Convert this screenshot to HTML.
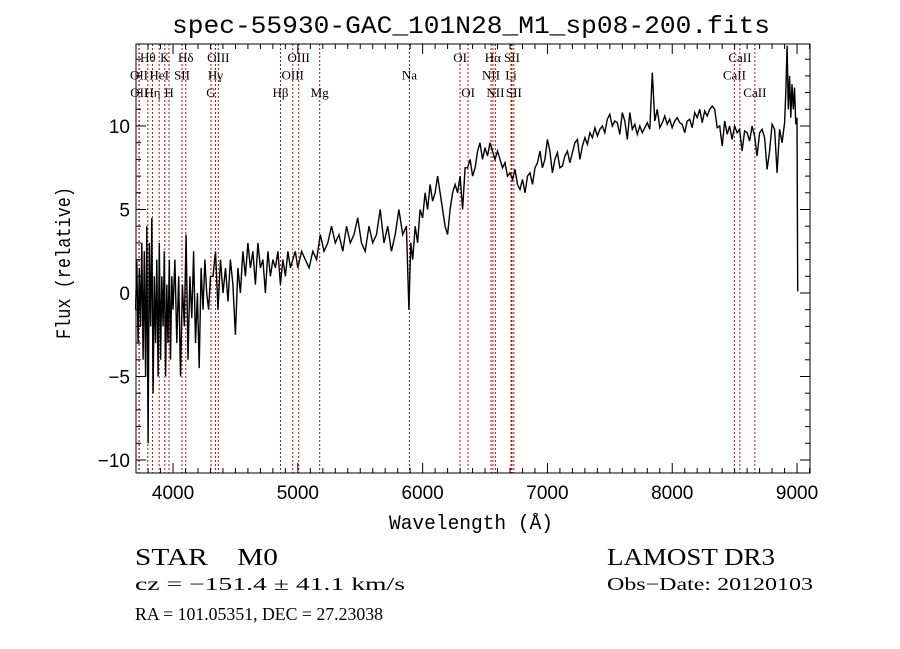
<!DOCTYPE html>
<html><head><meta charset="utf-8"><style>
html,body{margin:0;padding:0;background:#fff;}
svg{display:block;}
</style></head><body>
<svg id="chart" width="900" height="649" viewBox="0 0 900 649" xmlns="http://www.w3.org/2000/svg">
<rect x="0" y="0" width="900" height="649" fill="#fff"/>
<text x="471" y="33" text-anchor="middle" font-family="Liberation Mono, monospace" font-size="25" textLength="598" lengthAdjust="spacingAndGlyphs">spec-55930-GAC_101N28_M1_sp08-200.fits</text>
<g id="lines"></g>
<g id="spec"></g>
<g id="axes"></g>
<text x="471" y="529" text-anchor="middle" font-family="Liberation Mono, monospace" font-size="20" textLength="164" lengthAdjust="spacingAndGlyphs">Wavelength (Å)</text>
<text transform="translate(70,263) rotate(-90)" text-anchor="middle" font-family="Liberation Mono, monospace" font-size="20" textLength="152" lengthAdjust="spacingAndGlyphs">Flux (relative)</text>
<g font-family="Liberation Serif, serif">
<text x="135" y="565" font-size="24" textLength="143" lengthAdjust="spacingAndGlyphs">STAR&#160;&#160;&#160;&#160;M0</text>
<text x="607" y="565" font-size="24" textLength="168" lengthAdjust="spacingAndGlyphs">LAMOST DR3</text>
<text x="135" y="590" font-size="18" textLength="270" lengthAdjust="spacingAndGlyphs">cz = −151.4 ± 41.1 km/s</text>
<text x="607" y="590" font-size="18" textLength="206" lengthAdjust="spacingAndGlyphs">Obs−Date: 20120103</text>
<text x="135" y="620" font-size="18" textLength="248" lengthAdjust="spacingAndGlyphs">RA = 101.05351, DEC =  27.23038</text>
</g>
</svg>
<script>
const wl = [3700,3710,3720,3730,3740,3750,3760,3770,3780,3790,3800,3810,3820,3830,3840,3850,3860,3870,3880,3890,3900,3910,3920,3930,3940,3950,3960,3970,3980,3990,
4000,4015,4030,4045,4060,4075,4090,4105,4120,4135,4150,4165,4180,4195,4210,4225,4240,4255,4270,4285,4300,
4320,4340,4360,4380,4400,4420,4440,4460,4480,4500,4520,4540,4560,4580,4600,4620,4640,4660,4680,4700,4720,4740,4760,4780,4800,4820,4840,4860,4880,4900,4920,4940,4960,4980,5000,
5030,5060,5090,5120,5150,5180,5210,5240,5270,5300,5330,5360,5390,5420,5450,5480,5510,5540,5570,5600,5630,5660,5690,5720,5750,5780,5810,5840,5870,
5890,5905,5920,
5940,5960,5980,6000,6020,6040,6060,6080,6100,6120,6140,6160,6180,6200,6220,6240,6260,6280,6300,6320,6340,6360,6380,6400,6420,6440,6460,6480,6500,
6520,6540,6560,6580,6600,6620,6640,6660,6680,6700,6720,6740,6760,6780,6800,6820,6840,6860,6880,6900,6920,6940,6960,6980,7000,
7020,7040,7060,7080,7100,7120,7140,7160,7180,7200,7220,7240,7260,7280,7300,7320,7340,7360,7380,7400,7420,7440,7460,7480,7500,7520,7540,7560,7580,7600,
7620,7640,7660,7680,7700,7720,7740,7760,7780,7800,7820,7840,7860,7880,7900,7920,7940,7960,7980,8000,8020,8040,8060,8080,8100,8120,8140,8160,8180,8200,8220,8240,8260,8280,8300,
8320,8340,8360,8380,8400,8420,8440,8460,8480,8500,8520,8540,8560,8580,8600,8620,8640,8660,8680,8700,8720,8740,8760,8780,8800,8820,8840,8860,8880,8900,
8910,8920,8930,8940,8950,8960,8970,8980,8990,9000,9005];
const flux = [-1,2,-3,1.5,-2,3,-4,2.5,-5,4,-9,3,-2,4.5,-6,1,-3,2,-5,3,-4,1,-2,2.5,-5,0.5,-3,2,-4,1,
-1,2,-3,1,-5,0.5,-2,3.5,-4,1,-1.5,2.5,-3,0,-4.5,1.5,-1,2,0,-1,1,
1,2.5,-1,2,0,1.5,-0.5,2,0.5,-2.5,1.5,0,2.5,1,3,1.5,2.5,0.5,3,1.5,2,0,2.5,1,2,1.5,2.5,0.5,2,1,2.5,1.5,2,2.5,1.5,
2.5,2,1.5,2.5,2,3.5,2.5,3,4,3,3.5,2.5,4,3,3.5,4.5,3,2.5,4,3,3.5,5,3,4,2.5,3.5,5,3.5,4,
-1,3,2,
4,3,5,4.5,6,5,6.5,5.5,6,7,6,5,4,3.5,5,6,6.5,6,7,5,7.5,7.5,8,7,7.5,8.5,9,8,8.7,
8.2,9,8.5,8,8.5,8,7.5,7.8,7,7.2,6.8,7.4,6.5,6.2,6.8,6,7,7.2,6.5,7.5,7.8,8.5,7.5,8,9.2,
8.5,7.2,8,8.4,7.5,7.6,8.2,8.5,7.8,8.4,9,9.2,8,8.8,9.3,8.9,9.6,9.3,9.9,9.4,9.8,10,9.6,10.4,10.7,10,10.3,10.2,9.5,10.8,
10.3,9.2,10.8,9.8,10.1,9.5,10,9.6,9.9,10.2,9.8,13.2,10.3,11,9.9,10.2,10.6,10.1,10.4,9.9,10.3,10.5,10.2,10.1,9.6,10.3,10.4,9.9,10.8,10.5,11,10.2,10.9,10.6,11,
11.2,11,9.9,10,8.8,10.3,9.5,10,9.2,10,9.6,9.8,8.5,9.7,9.6,9.1,10,9.4,8.2,9.6,9.8,9.3,7.4,8.5,10.1,9.8,7.2,9.8,9,10.2,
12,14.8,11,13,10.5,12.5,11,12.3,10.1,10.5,0.1];
const lineWl = [3727,3729,3798,3835,3889,3934,3968,4072,4102,4304,4340,4363,4861,4959,5007,5175,5894,6300,6364,6548,6563,6583,6708,6716,6731,8498,8542,8662];
const lineNames = ["OII","OII","Hθ","Hη","HeI","K","H","SII","Hδ","G","Hγ","OIII","Hβ","OIII","OIII","Mg","Na","OI","OI","NII","Hα","NII","Li","SII","SII","CaII","CaII","CaII"];
const lineRows = [1,2,0,2,1,0,2,1,0,2,1,0,2,1,0,2,1,0,2,1,0,2,1,0,2,1,0,2];
const xTicks = [4000,5000,6000,7000,8000,9000];
const yTicks = [-10,-5,0,5,10];

const L=136,R=810,T=44,B=473;
const X0=3700, XS=0.1248;
const sx=w=>135.6+(w-X0)*XS;
const sy=f=>293-f*16.7;
const NS="http://www.w3.org/2000/svg";
function mk(tag,parent,attrs){const e=document.createElementNS(NS,tag);for(const k in attrs)e.setAttribute(k,attrs[k]);parent.appendChild(e);return e;}

const gl=document.getElementById('lines');
lineWl.forEach((w,i)=>{
  const ln=mk('line',gl,{x1:sx(w),x2:sx(w),y1:T,y2:B,stroke:'#b01010','stroke-width':1,'stroke-dasharray':'2,2'});
  
  
  const t=mk('text',gl,{x:sx(w),y:62+lineRows[i]*17.5,'text-anchor':'middle','font-family':'Liberation Serif, serif','font-size':13});
  t.textContent=lineNames[i];
  
  
});

const gs=document.getElementById('spec');
let d='';
wl.forEach((w,i)=>{const y=Math.max(T,Math.min(B,sy(flux[i])));d+=(i?'L':'M')+sx(w).toFixed(1)+','+y.toFixed(1);});
const p=mk('path',gs,{d:d,fill:'none',stroke:'#000','stroke-width':1.4,'stroke-linejoin':'miter'});



const ga=document.getElementById('axes');
const fr=mk('rect',ga,{x:L,y:T,width:R-L,height:B-T,fill:'none',stroke:'#000','stroke-width':1});


for(let w=3700;w<=9100;w+=100){
  const x=sx(w); if(x<L||x>R) continue;
  const len=(w%1000===0)?10:5;
  mk('line',ga,{x1:x,x2:x,y1:B,y2:B-len,stroke:'#000'});
  mk('line',ga,{x1:x,x2:x,y1:T,y2:T+len,stroke:'#000'});
}
for(let f=-10;f<=14;f+=1){
  const y=sy(f); if(y<T||y>B) continue;
  const len=(f%5===0)?10:5;
  mk('line',ga,{x1:L,x2:L+len,y1:y,y2:y,stroke:'#000'});
  mk('line',ga,{x1:R,x2:R-len,y1:y,y2:y,stroke:'#000'});
}
xTicks.forEach(v=>{
  const t=mk('text',ga,{x:sx(v),y:B+26,'text-anchor':'middle','font-family':'Liberation Sans, sans-serif','font-size':19});
  t.textContent=v;
  
  
});
yTicks.forEach(v=>{
  const t=mk('text',ga,{x:L-6,y:sy(v)+7,'text-anchor':'end','font-family':'Liberation Sans, sans-serif','font-size':19});
  t.textContent=v<0?'−'+Math.abs(v):v;
  
  
});
</script>
</body></html>
